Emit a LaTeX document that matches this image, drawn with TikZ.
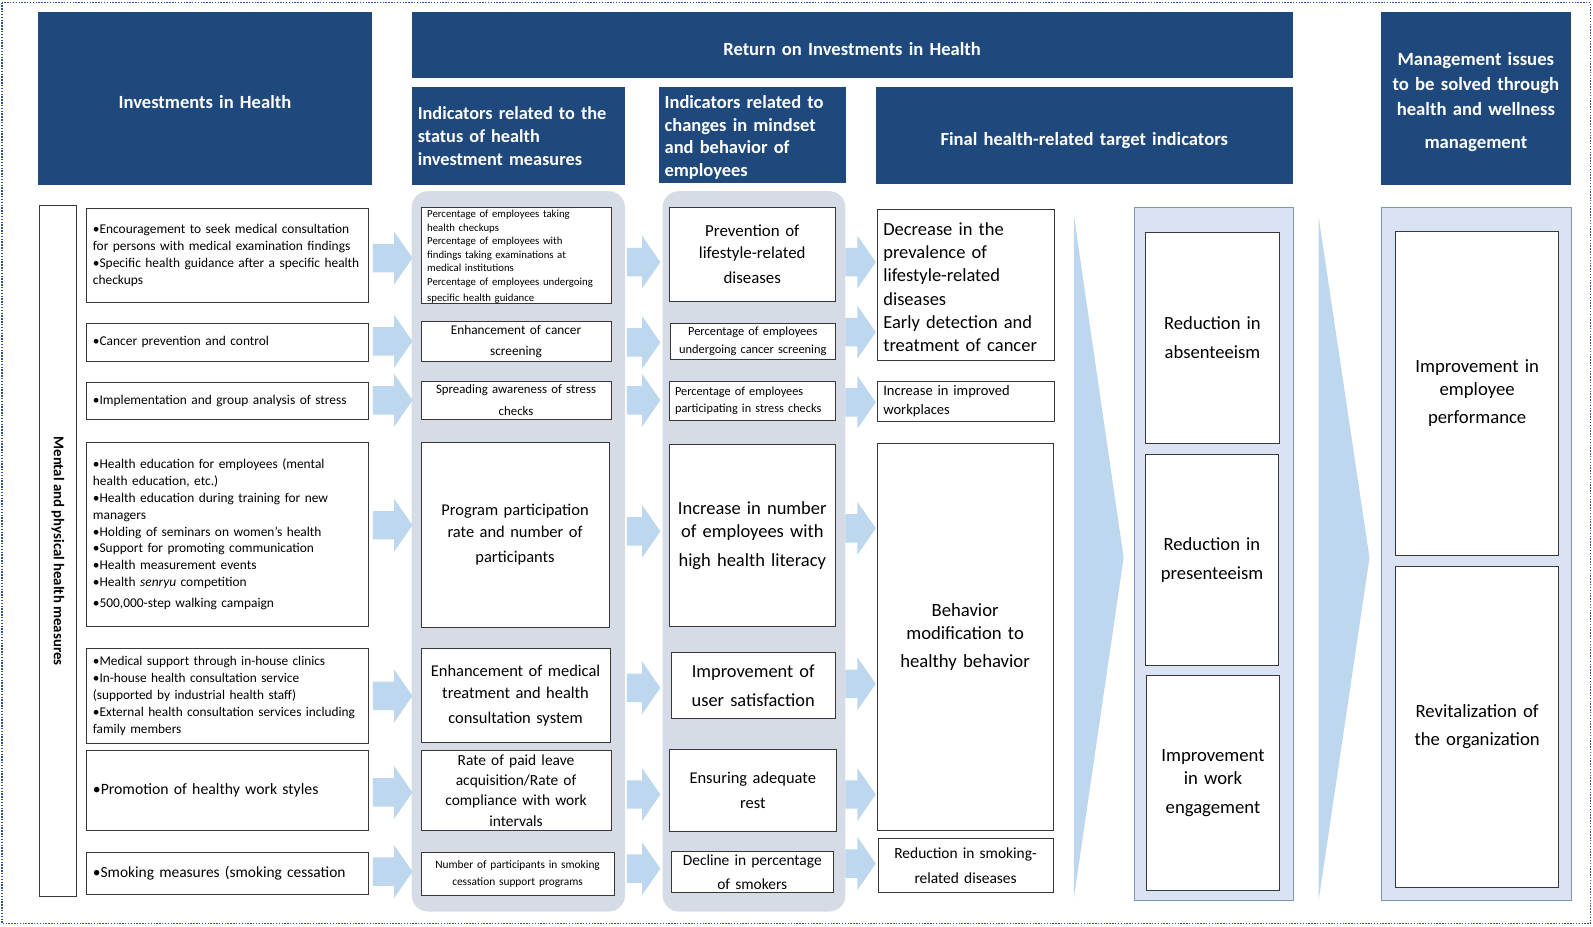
\documentclass[tikz,border=0pt]{standalone}
\usepackage{fontspec}
\setmainfont{Carlito}
\definecolor{hb}{HTML}{1F497D}
\definecolor{pg}{HTML}{D6DCE5}
\definecolor{ab}{HTML}{BDD7EE}
\definecolor{lb}{HTML}{DAE3F3}
\definecolor{lbb}{HTML}{7D96BE}
\definecolor{dotb}{HTML}{2F5597}
\newcommand\fs[2]{\fontsize{#1}{#2}\selectfont}
\newcommand\dropby[2]{\raisebox{-#1}[\height][\depth]{#2}}
% name, x1, y1, x2, y2, style, text
\newcommand\B[7]{\node[#6, anchor=north west, minimum width={#4-#2}, minimum height={#5-#3}, text width={#4-#2-12}] (#1) at (#2,#3) {#7};}
\newcommand\Ar[3]{\fill[ab] (#1,{#3-14}) -- ({#2-18},{#3-14}) -- ({#2-18},{#3-26}) -- (#2,#3) -- ({#2-18},{#3+26}) -- ({#2-18},{#3+14}) -- (#1,{#3+14}) -- cycle;}
\begin{document}
\begin{tikzpicture}[x=1pt,y=-1pt,
  box/.style={draw=black!78, line width=0.9pt, fill=white, inner xsep=6pt, inner ysep=0pt, align=center},
  lbox/.style={box, align=left},
  head/.style={fill=hb, text=white, inner xsep=6pt, inner ysep=0pt, align=center, font=\bfseries\fs{18.3}{22}},
  panel/.style={fill=pg, rounded corners=16pt, inner sep=0pt},
  bpanel/.style={fill=lb, draw=lbb, line width=0.9pt, inner sep=0pt}]
\useasboundingbox (0,0) rectangle (1568,911.5);
\draw[dotb, line width=1.7pt, dash pattern=on 1.4pt off 1.4pt] (2,2.5) rectangle (1565.5,909);

% headers
\B{h1}{37}{12}{366}{182}{head}{\dropby{3pt}{Investments in Health}}
\B{h2}{405}{12}{1272}{77}{head}{\dropby{4pt}{Return on Investments in Health}}
\B{h3}{405}{85}{615}{182}{head, align=left, font=\bfseries\fs{18}{22.5}}{Indicators related to the\\status of health\\investment measures}
\B{h4}{648}{85}{833}{180}{head, align=left, font=\bfseries\fs{18.2}{22.6}}{\rule{0pt}{18pt}Indicators related to\\changes in mindset\\and behavior of\\employees}
\B{h5}{862}{85}{1272}{181}{head}{\dropby{5.5pt}{Final health-related target indicators}}
\B{h6}{1359}{12}{1546}{182}{head, font=\bfseries\fs{18.4}{24.5}}{\rule{0pt}{19pt}Management issues\\to be solved through\\health and wellness\\[8pt]management}

% panels
\B{p2}{405}{188}{615}{897}{panel}{}
\B{p3}{652}{188}{832}{897}{panel}{}
\B{p5}{1116}{204}{1273}{886}{bpanel}{}
\B{p6}{1359}{204}{1546}{886}{bpanel}{}

% wedges
\fill[ab] (1057,212) -- (1106,549) -- (1057,884) -- cycle;
\fill[ab] (1298,214) -- (1348,549) -- (1298,886) -- cycle;

% vertical label
\B{mv}{38}{202}{75}{882}{box}{}
\node[rotate=-90, font=\bfseries\fs{14.6}{16}] (mvt) at (mv.center) {Mental and physical health measures};

% column 1
\B{a1}{85}{205}{362}{297}{lbox, font=\fs{13.2}{16.5}}{•Encouragement to seek medical consultation\\for persons with medical examination findings\\•Specific health guidance after a specific health\\checkups}
\B{a2}{85}{318}{362}{355}{lbox, font=\fs{13.2}{16.5}}{•Cancer prevention and control}
\B{a3}{85}{376}{362}{412}{lbox, font=\fs{13.2}{16.5}}{•Implementation and group analysis of stress}
\B{a4}{85}{435}{362}{616}{lbox, font=\fs{13.2}{16.6}}{•Health education for employees (mental\\health education, etc.)\\•Health education during training for new\\managers\\•Holding of seminars on women’s health\\•Support for promoting communication\\•Health measurement events\\•Health \textit{senryu} competition\\[4pt]•500,000-step walking campaign}
\B{a5}{85}{638}{362}{731}{lbox, font=\fs{13.1}{16.7}}{•Medical support through in-house clinics\\•In-house health consultation service\\(supported by industrial health staff)\\•External health consultation services including\\family members}
\B{a6}{85}{738}{362}{817}{lbox, font=\fs{15.5}{17}}{•Promotion of healthy work styles}
\B{a7}{85}{839}{362}{880}{lbox, font=\fs{15.2}{17}}{•Smoking measures (smoking cessation}

% column 2
\B{b1}{414}{204}{601}{297}{lbox, font=\fs{10.6}{13.3}}{\rule{0pt}{10pt}Percentage of employees taking\\health checkups\\Percentage of employees with\\findings taking examinations at\\medical institutions\\Percentage of employees undergoing\\[3pt]specific health guidance}
\B{b2}{414}{316}{601}{355}{box, font=\fs{13.1}{21}}{Enhancement of cancer\\screening}
\B{b3}{414}{375}{601}{412}{box, font=\fs{12.6}{21}}{Spreading awareness of stress\\checks}
\B{b4}{414}{435}{599}{617}{box, font=\fs{16.2}{21.5}}{Program participation\\rate and number of\\[3pt]participants}
\B{b5}{414}{638}{600}{730}{box, font=\fs{16.2}{21.5}}{Enhancement of medical\\treatment and health\\[3pt]consultation system}
\B{b6}{414}{738}{601}{817}{box, font=\fs{15.2}{20}}{Rate of paid leave\\acquisition/Rate of\\compliance with work\\intervals}
\B{b7}{414}{839}{604}{881}{box, font=\fs{11.2}{17}}{Number of participants in smoking\\cessation support programs}

% column 3
\B{c1}{658}{204}{822}{296}{box, font=\fs{16.6}{21.5}}{Prevention of\\lifestyle-related\\[3pt]diseases}
\B{c2}{659}{318}{822}{353}{box, font=\fs{12.2}{18}}{Percentage of employees\\undergoing cancer screening}
\B{c3}{658}{375}{822}{413}{lbox, font=\fs{12.1}{16}}{Percentage of employees\\participating in stress checks}
\B{c4}{658}{437}{822}{616}{box, font=\fs{18.2}{23}}{Increase in number\\of employees with\\[5pt]high health literacy}
\B{c5}{660}{642}{822}{707}{box, font=\fs{18.1}{22}}{Improvement of\\[7pt]user satisfaction}
\B{c6}{658}{737}{823}{818}{box, font=\fs{16.2}{25}}{Ensuring adequate\\rest}
\B{c7}{660}{838}{820}{878}{box, font=\fs{15.2}{23}}{Decline in percentage\\of smokers}

% column 4
\B{d1}{863}{206}{1037}{354}{lbox, font=\fs{18.2}{22.8}}{\rule{0pt}{17pt}Decrease in the\\prevalence of\\lifestyle-related\\diseases\\Early detection and\\treatment of cancer}
\B{d2}{863}{375}{1037}{414}{lbox, font=\fs{14.3}{18}}{Increase in improved\\workplaces}
\B{d3}{863}{436}{1036}{817}{box, font=\fs{18.4}{23}}{Behavior\\modification to\\[5pt]healthy behavior}
\B{d4}{864}{825}{1036}{878}{box, font=\fs{15.2}{21}}{Reduction in smoking-\\[3pt]related diseases}

% column 5
\B{e1}{1127}{228}{1259}{436}{box, font=\fs{18.3}{28}}{Reduction in\\absenteeism}
\B{e2}{1127}{447}{1258}{655}{box, font=\fs{18.3}{28}}{Reduction in\\presenteeism}
\B{e3}{1128}{664}{1259}{876}{box, font=\fs{18.4}{23}}{Improvement\\in work\\[5pt]engagement}

% column 6
\B{f1}{1373}{227}{1534}{546}{box, font=\fs{18.4}{23}}{Improvement in\\employee\\[5pt]performance}
\B{f2}{1373}{557}{1534}{873}{box, font=\fs{18.4}{28}}{Revitalization of\\the organization}

% arrows
\Ar{367}{406}{254}\Ar{367}{406}{336}\Ar{367}{406}{394}\Ar{367}{406}{517}
\Ar{367}{406}{685}\Ar{367}{406}{780}\Ar{367}{406}{858}
\Ar{617}{650}{258}\Ar{617}{650}{337}\Ar{617}{650}{394}\Ar{617}{650}{523}
\Ar{617}{650}{677}\Ar{617}{650}{782}\Ar{617}{650}{855}
\Ar{832}{862}{258}\Ar{832}{862}{327}\Ar{832}{862}{396}\Ar{832}{862}{520}
\Ar{832}{862}{673}\Ar{832}{862}{782}\Ar{832}{862}{850}
\end{tikzpicture}
\end{document}
